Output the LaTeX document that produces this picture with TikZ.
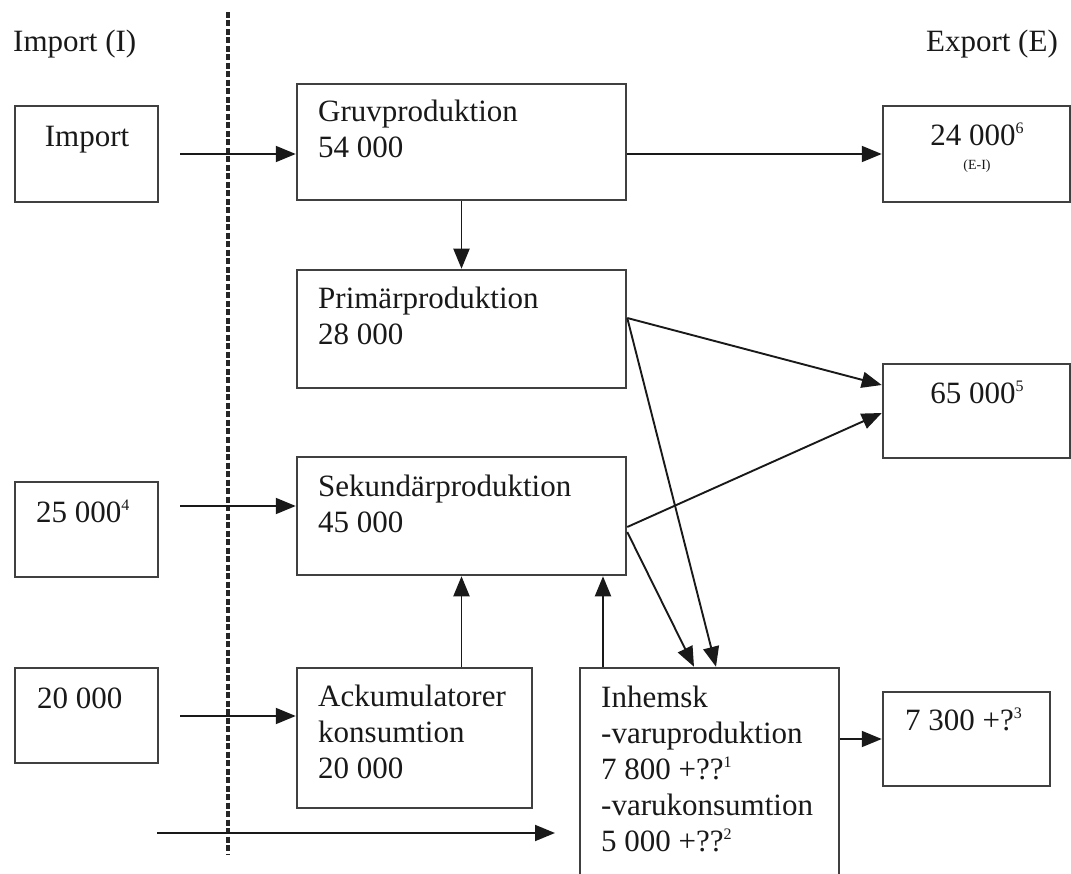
\documentclass[tikz,border=0pt]{standalone}
\usepackage{fontspec}
\setmainfont{Liberation Serif}
\usetikzlibrary{arrows.meta,calc}
\newcommand{\sups}[1]{\raisebox{12pt}{\fontsize{16}{16}\selectfont #1}}
\tikzset{
  box/.style={draw=black!75, line width=2.5pt, fill=white, rectangle, inner sep=0pt},
  txt/.style={font=\fontsize{31}{36}\selectfont, inner sep=0pt, text=black!90, align=left},
  arr/.style={draw=black!90, line width=1.9pt, -{Triangle[length=20pt,width=16pt]}},
  border/.style={draw=black!85, line width=3.4pt, dash pattern=on 6pt off 2.5pt}
}
\begin{document}
\begin{tikzpicture}[x=1pt,y=-1pt]
\useasboundingbox (0,0) rectangle (1071,874);
\clip (0,0) rectangle (1071,874);
% border line
\coordinate (d1) at (228,12);
\coordinate (d2) at (228,854);
\draw[border] (d1) -- (d2);
% headings
\node[txt, anchor=base west] (hI) at (13,52) {Import (I)};
\node[txt, anchor=base east] (hE) at (1058,52) {Export (E)};
% boxes
\node[box, minimum width=143pt, minimum height=96pt] (imp) at (86.5,154) {};
\node[box, minimum width=329pt, minimum height=116pt] (gruv) at (461.5,142) {};
\node[box, minimum width=187pt, minimum height=96pt] (exp1) at (976.5,154) {};
\node[box, minimum width=329pt, minimum height=118pt] (prim) at (461.5,329) {};
\node[box, minimum width=187pt, minimum height=94pt] (exp2) at (976.5,411) {};
\node[box, minimum width=143pt, minimum height=95pt] (imp2) at (86.5,529.5) {};
\node[box, minimum width=329pt, minimum height=118pt] (sek) at (461.5,516) {};
\node[box, minimum width=143pt, minimum height=95pt] (imp3) at (86.5,715.5) {};
\node[box, minimum width=235pt, minimum height=140pt] (ack) at (414.5,738) {};
\node[box, minimum width=259pt, minimum height=232pt] (inh) at (709.5,784) {};
\node[box, minimum width=167pt, minimum height=94pt] (exp3) at (966.5,739) {};
% texts (base anchor = last line baseline)
\node[txt, anchor=base] (impT) at (87,147) {Import};
\node[txt, anchor=base west] (gruvT) at (318,158) {Gruvproduktion\\54 000};
\node[txt, anchor=base] (exp1T) at (977,146) {24 000\sups{6}};
\node[txt, anchor=base, font=\fontsize{14}{14}\selectfont] (exp1S) at (977,170) {(E-I)};
\node[txt, anchor=base west] (primT) at (318,345) {Primärproduktion\\28 000};
\node[txt, anchor=base] (exp2T) at (977,403) {65 000\sups{5}};
\node[txt, anchor=base west] (imp2T) at (36,522) {25 000\sups{4}};
\node[txt, anchor=base west] (sekT) at (318,532) {Sekundärproduktion\\45 000};
\node[txt, anchor=base west] (imp3T) at (37,708) {20 000};
\node[txt, anchor=base west] (ackT) at (318,778) {Ackumulatorer\\konsumtion\\20 000};
\node[txt, anchor=base west] (inhT) at (601,851) {Inhemsk\\-varuproduktion\\7 800 +??\sups{1}\\-varukonsumtion\\5 000 +??\sups{2}};
\node[txt, anchor=base west] (exp3T) at (905,730) {7 300 +?\sups{3}};
% connectors
\coordinate (a1) at (180,154);
\coordinate (a2) at (180,506);
\coordinate (a3) at (180,716);
\coordinate (a4) at (157,833);
\coordinate (a5) at (555,833);
\coordinate (u2) at (603,0);
\draw[arr] (a1) -- (a1 -| gruv.west);
\draw[arr] (gruv.east |- exp1.west) -- (exp1.west);
\draw[arr] (gruv.south) -- (prim.north);
\draw[arr] ($(prim.east)+(0,-11)$) -- ($(exp2.west)+(0,-26)$);
\draw[arr] ($(prim.east)+(0,-11)$) -- ($(inh.north)+(6.5,0)$);
\draw[arr] ($(sek.east)+(0,11)$) -- ($(exp2.west)+(0,2)$);
\draw[arr] ($(sek.east)+(0,16)$) -- ($(inh.north)+(-15.5,0)$);
\draw[arr] (a2) -- (a2 -| sek.west);
\draw[arr] (sek.south |- ack.north) -- (sek.south);
\draw[arr] (u2 |- inh.north) -- (u2 |- sek.south);
\draw[arr] (a3) -- (a3 -| ack.west);
\draw[arr] (a4) -- (a5);
\draw[arr] (inh.east |- exp3.west) -- (exp3.west);
\end{tikzpicture}
\end{document}
